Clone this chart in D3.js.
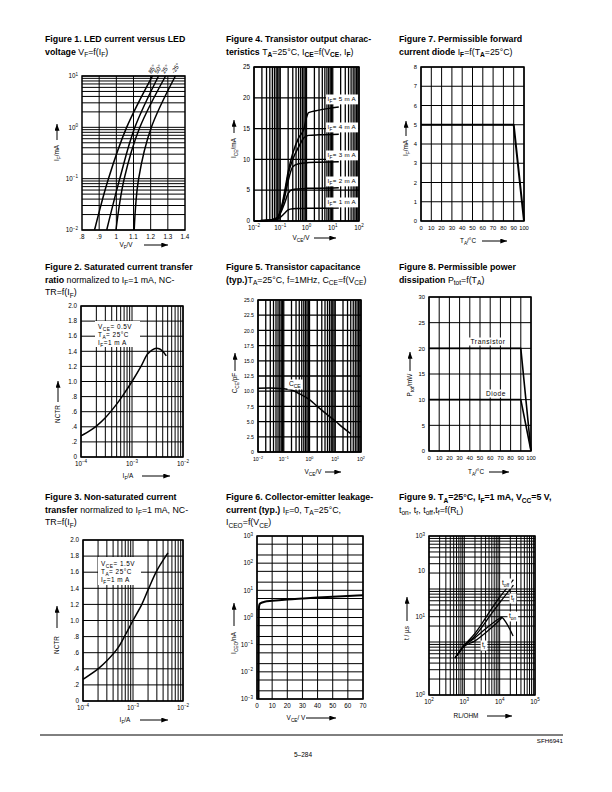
<!DOCTYPE html>
<html><head><meta charset="utf-8">
<script src="https://cdn.jsdelivr.net/npm/d3@7"></script>
<style>
body{margin:0;background:#fff}
svg text{font-family:"Liberation Sans",Arial,Helvetica,sans-serif;fill:#000;white-space:pre}
</style>
</head><body>
<svg id="c" width="612" height="792" xmlns="http://www.w3.org/2000/svg"></svg>
<script>
// ---------------- DATA ----------------
// Figure 1: LED current vs LED voltage
const f1IF = [0.01, 0.1, 1, 10];
const f1VF85 = [0.873, 0.954, 1.06, 1.21];
const f1VF50 = [0.944, 1.02, 1.108, 1.246];
const f1VF25 = [0.998, 1.046, 1.137, 1.287];
const f1VFm25 = [1.104, 1.13, 1.204, 1.344];
const f1Temps = ["85°", "50°", "25°", "-25°"];
const f1XTicks = [0.8, 0.9, 1.0, 1.1, 1.2, 1.3, 1.4];
const f1XLabels = [".8", ".9", "1", "1.1", "1.2", "1.3", "1.4"];
const f1VGrid = [0.9, 1.0, 1.1, 1.2, 1.3];
const f1YTicks = [0.01, 0.1, 1, 10];
const f1YLabels = ["10^{−2}", "10^{−1}", "10^{0}", "10^{1}"];

// Figure 4: transistor output characteristics
const f4VCE = [0.01, 0.05, 0.08, 0.1, 0.15, 0.2, 0.3, 0.5, 0.8, 1.0, 1.2, 3, 17];
const f4IF5 = [0, 0.2, 0.6, 1.5, 5, 8, 11, 13.5, 15, 16.8, 17.6, 18, 18.5];
const f4IF4 = [0, 0.2, 0.6, 1.5, 4.5, 7.5, 10, 12, 13.5, 13.8, 13.9, 14, 14.1];
const f4IF3 = [0, 0.2, 0.6, 1.4, 4, 6.5, 8.8, 9.3, 9.4, 9.45, 9.5, 9.55, 9.6];
const f4IF2 = [0, 0.2, 0.5, 1.2, 3, 4.5, 5.1, 5.2, 5.25, 5.3, 5.3, 5.32, 5.4];
const f4IF1 = [0, 0.1, 0.3, 0.6, 1.3, 1.8, 2.0, 2.02, 2.04, 2.05, 2.06, 2.07, 2.1];
const f4Labels = ["I_{F}= 5 m A", "I_{F}= 4 m A", "I_{F}= 3 m A", "I_{F}= 2 m A", "I_{F}= 1 m A"];
const f4XTicks = [0.01, 0.1, 1, 10, 100];
const f4XLabels = ["10^{−2}", "10^{−1}", "10^{0}", "10^{1}", "10^{2}"];
const f4YTicks = [0, 5, 10, 15, 20, 25];
const f4YLabels = ["0", "5", "10", "15", "20", "25"];

// Figure 7: permissible forward current
const f7TA = [0, 90, 100];
const f7IF = [5, 5, 0];
const f7XTicks = [0, 10, 20, 30, 40, 50, 60, 70, 80, 90, 100];
const f7YTicks = [0, 1, 2, 3, 4, 5, 6, 7, 8];

// Figure 2: saturated CTR
const f2IF = [1e-4, 1.5e-4, 2e-4, 3e-4, 5e-4, 7e-4, 1e-3, 1.5e-3, 2e-3, 2.5e-3, 3e-3, 3.5e-3, 4e-3, 4.7e-3];
const f2NCTR = [0.28, 0.35, 0.41, 0.52, 0.70, 0.84, 1.0, 1.2, 1.36, 1.42, 1.44, 1.43, 1.40, 1.34];
const f2Notes = ["V_{CE}= 0.5V", "T_{A}= 25°C", "I_{F}=1 m A"];

// Figure 3: non-saturated CTR
const f3IF = [1e-4, 2e-4, 3e-4, 5e-4, 7e-4, 1e-3, 1.5e-3, 2e-3, 3e-3, 5e-3];
const f3NCTR = [0.27, 0.40, 0.50, 0.66, 0.82, 1.0, 1.2, 1.38, 1.62, 1.84];
const f3Notes = ["V_{CE}= 1.5V", "T_{A}= 25°C", "I_{F}=1 m A"];

const ctrYTicks = [0, 0.2, 0.4, 0.6, 0.8, 1.0, 1.2, 1.4, 1.6, 1.8, 2.0];
const ctrYLabels = ["0", ".2", ".4", ".6", ".8", "1.0", "1.2", "1.4", "1.6", "1.8", "2.0"];
const ctrXTicks = [1e-4, 1e-3, 1e-2];
const ctrXLabels = ["10^{−4}", "10^{−3}", "10^{−2}"];

// Figure 5: transistor capacitance
const f5VCE = [0.01, 0.05, 0.1, 0.2, 0.4, 1, 2, 5, 10, 20, 40];
const f5CCE = [10.5, 10.5, 10.4, 10.2, 9.6, 8.6, 7.5, 6.1, 5.1, 4.0, 3.0];
const f5YTicks = [0, 2.5, 5, 7.5, 10, 12.5, 15, 17.5, 20, 22.5, 25];
const f5YLabels = ["0", "2.5", "5.0", "7.5", "10.0", "12.5", "15.0", "17.5", "20.0", "22.5", "25.0"];

// Figure 8: permissible power dissipation
const f8TA = [0, 90, 100];
const f8Transistor = [20, 20, 0];
const f8Diode = [10, 10, 0];
const f8YTicks = [0, 5, 10, 15, 20, 25, 30];

// Figure 6: collector-emitter leakage current
const f6VCE = [1.0, 1.2, 1.6, 2.5, 5, 10, 20, 30, 40, 50, 60, 70];
const f6ICEO = [0.001, 2.0, 3.0, 3.4, 3.8, 4.1, 4.6, 5.0, 5.4, 5.8, 6.2, 6.6];
const f6XTicks = [0, 10, 20, 30, 40, 50, 60, 70];
const f6YTicks = [1e-3, 1e-2, 1e-1, 1, 10, 100, 1000];
const f6YLabels = ["10^{−3}", "10^{−2}", "10^{−1}", "10^{0}", "10^{1}", "10^{2}", "10^{3}"];
const f6HGrid = [1e-3, 2e-3, 5e-3, 1e-2, 2e-2, 5e-2, 0.1, 0.2, 0.5, 1, 2, 5, 10, 20, 50, 100, 200, 500, 1000];

// Figure 9: switching times vs RL
const f9RL = [550, 1000, 2000, 6000, 10000, 24500];
const f9Toff = [5.0, 8.7, 14.5, 43, 70, 150];
const f9Tf = [5.0, 8.7, 13, 35, 55, 118];
const f9RLon = [550, 1000, 2000, 5000, 10000, 11500, 16000, 24000];
const f9Ton = [5.0, 8.5, 12, 20, 28, 29, 22, 13];
const f9RLr = [550, 1000, 2000, 5000, 10000, 11500];
const f9Tr = [5.0, 8.3, 10.5, 17, 26, 29];
const f9XTicks = [100, 1000, 10000, 100000];
const f9XLabels = ["10^{2}", "10^{3}", "10^{4}", "10^{5}"];
const f9YTicks = [1000, 218, 29.6, 1];
const f9YLabels = ["10^{3}", "10", "10^{1}", "10^{0}"];

// ---------------- DRAWING ----------------
const svg = d3.select("#c");
svg.append("rect").attr("width", 612).attr("height", 792).attr("fill", "#fff");
const defs = svg.append("defs");
defs.append("marker").attr("id", "arr").attr("viewBox", "0 0 8 6").attr("refX", 8).attr("refY", 3)
  .attr("markerWidth", 7).attr("markerHeight", 5).attr("markerUnits", "userSpaceOnUse").attr("orient", "auto")
  .append("path").attr("d", "M0,0L8,3L0,6Z").attr("fill", "#000");

function rich(sel, str, size, baseBold) {
  const re = /([_^*~!])\{([^}]*)\}|([^_^*~!{}]+)/g;
  let m, cur = 0;
  while ((m = re.exec(str)) !== null) {
    let t, target = 0, fs = size, bold = baseBold;
    if (m[3] !== undefined) { t = m[3]; }
    else {
      t = m[2];
      const k = m[1];
      if (k === "_" || k === "~") { target = size * 0.3; fs = size * 0.75; if (k === "~") bold = true; }
      else if (k === "^") { target = -size * 0.42; fs = size * 0.72; }
      else if (k === "*") bold = true;
      else if (k === "!") bold = false;
    }
    sel.append("tspan").attr("dy", (target - cur).toFixed(2)).attr("font-size", fs)
      .attr("font-weight", bold ? "bold" : "normal").text(t);
    cur = target;
  }
}
function T(g, x, y, str, size, opt = {}) {
  const t = g.append("text").attr("x", x).attr("y", y).attr("font-size", size)
    .attr("text-anchor", opt.anchor || "start");
  if (opt.rotate) t.attr("transform", `rotate(${opt.rotate},${x},${y})`);
  if (opt.ls) t.attr("letter-spacing", opt.ls);
  rich(t, str, size, !!opt.bold);
  return t;
}
function title(x, y, lines) {
  lines.forEach((l, i) => T(svg, x, y + i * 12.6, l, 8.8));
}
function yLabel(x, yc, str, arrowTop, arrowBot) {
  T(svg, x, yc, str, 6.4, { anchor: "middle", rotate: -90 });
  svg.append("line").attr("x1", x - 2).attr("x2", x - 2).attr("y1", arrowBot).attr("y2", arrowTop)
    .attr("stroke", "#000").attr("stroke-width", 1).attr("marker-end", "url(#arr)");
}
function xLabel(x, y, str, a0, a1) {
  T(svg, x, y, str, 6.4, { anchor: "middle" });
  svg.append("line").attr("x1", a0).attr("x2", a1).attr("y1", y - 2).attr("y2", y - 2)
    .attr("stroke", "#000").attr("stroke-width", 1).attr("marker-end", "url(#arr)");
}
function plot(c) {
  const [x0, x1, y0, y1] = c.box;
  const g = svg.append("g");
  const xs = (c.xlog ? d3.scaleLog() : d3.scaleLinear()).domain(c.xd).range([x0, x1]);
  const ys = (c.ylog ? d3.scaleLog() : d3.scaleLinear()).domain(c.yd).range([y1, y0]);
  const vg = c.vg || xs.ticks();
  const hg = c.hg || ys.ticks();
  const gw = c.gw || 1;
  g.append("g").selectAll("line").data(vg).join("line")
    .attr("x1", d => xs(d)).attr("x2", d => xs(d)).attr("y1", y0).attr("y2", y1)
    .attr("stroke", "#000").attr("stroke-width", gw);
  g.append("g").selectAll("line").data(hg).join("line")
    .attr("x1", x0).attr("x2", x1).attr("y1", d => ys(d)).attr("y2", d => ys(d))
    .attr("stroke", "#000").attr("stroke-width", gw);
  g.append("rect").attr("x", x0).attr("y", y0).attr("width", x1 - x0).attr("height", y1 - y0)
    .attr("fill", "none").attr("stroke", "#000").attr("stroke-width", 1.5);
  const fs = c.fs || 6.3;
  c.xt.forEach((v, i) => T(g, xs(v), y1 + 9, c.xl ? c.xl[i] : String(v), fs, { anchor: "middle" }));
  c.yt.forEach((v, i) => T(g, x0 - 4, ys(v) + 2.2, c.yl ? c.yl[i] : String(v), fs, { anchor: "end" }));
  return { g, xs, ys };
}
function curve(p, xsArr, ysArr, w, cv) {
  const pts = xsArr.map((x, i) => [p.xs(x), p.ys(ysArr[i])]);
  p.g.append("path").attr("d", d3.line().curve(cv || d3.curveCatmullRom.alpha(0.5))(pts))
    .attr("fill", "none").attr("stroke", "#000").attr("stroke-width", w || 1.6).attr("stroke-linejoin", "round");
}
function note(g, x, y, str, size, opt = {}) {
  const t = T(g, x, y, str, size, opt);
  const b = t.node().getBBox();
  g.insert("rect", () => t.node()).attr("x", b.x - 1.5).attr("y", b.y - 0.5)
    .attr("width", b.width + 3).attr("height", b.height + 1).attr("fill", "#fff");
  return t;
}

// ---- Figure 1 ----
title(45, 42, ["*{Figure 1. LED current versus LED}", "*{voltage }V_{F}=f(I_{F})"]);
{
  const p = plot({ box: [82, 185, 76, 230], xd: [0.8, 1.4], yd: [0.01, 10], ylog: true,
    vg: f1VGrid, xt: f1XTicks, xl: f1XLabels, yt: f1YTicks, yl: f1YLabels });
  const sets = [f1VF85, f1VF50, f1VF25, f1VFm25];
  sets.forEach((vf, i) => {
    curve(p, vf, f1IF, 1.5, d3.curveMonotoneY);
    T(svg, p.xs(vf[vf.length - 1]) - 1, p.ys(f1IF[f1IF.length - 1]) - 2, f1Temps[i], 6, { rotate: -58 });
  });
  yLabel(59, 153, "I_{F}/mA", 124, 140);
  xLabel(126, 247, "V_{F}/V", 144, 168);
}

// ---- Figure 4 ----
title(226, 42, ["*{Figure 4. Transistor output charac-}", "*{teristics }T~{A}=25°C, I~{CE}=f(V~{CE}, I~{F})"]);
{
  const p = plot({ box: [254, 359, 67, 221], xd: [0.01, 100], xlog: true, yd: [0, 25],
    hg: f4YTicks, gw: 1.3, xt: f4XTicks, xl: f4XLabels, yt: f4YTicks, yl: f4YLabels });
  [f4IF5, f4IF4, f4IF3, f4IF2, f4IF1].forEach(s => curve(p, f4VCE, s, 1.5, d3.curveMonotoneX));
  const ly = [101, 129, 157, 183, 204];
  f4Labels.forEach((l, i) => note(p.g, 356, ly[i], l, 6.2, { anchor: "end", ls: 0.3 }));
  yLabel(236, 148, "I_{CE}/mA", 120, 133);
  xLabel(301, 240, "V_{CE}/V", 314, 336);
}

// ---- Figure 7 ----
title(399, 42, ["*{Figure 7. Permissible forward}", "*{current diode }I~{F}=f(T~{A}=25°C)"]);
{
  const p = plot({ box: [421, 524, 67, 221], xd: [0, 100], yd: [0, 8],
    vg: f7XTicks, hg: f7YTicks, xt: f7XTicks, yt: f7YTicks, fs: 5.8 });
  curve(p, f7TA, f7IF, 2, d3.curveLinear);
  yLabel(408, 148, "I_{F}/mA", 121, 136);
  xLabel(468, 243, "T_{A}/°C", 482, 507);
}

// ---- Figure 2 ----
title(45, 270, ["*{Figure 2. Saturated current transfer}", "*{ratio} normalized to I_{F}=1 mA, NC-", "TR=f(I_{F})"]);
{
  const p = plot({ box: [81, 183, 306, 457], xd: [1e-4, 1e-2], xlog: true, yd: [0, 2],
    hg: ctrYTicks, xt: ctrXTicks, xl: ctrXLabels, yt: ctrYTicks, yl: ctrYLabels });
  p.g.append("rect").attr("x", 95).attr("y", 321).attr("width", 45).attr("height", 26).attr("fill", "#fff");
  f2Notes.forEach((s, i) => T(p.g, 98, 329 + i * 8, s, 6.4, { ls: 0.5 }));
  curve(p, f2IF, f2NCTR, 1.5);
  yLabel(60, 414, "NCTR", 381, 402);
  xLabel(128, 478, "I_{F}/A", 142, 170);
}

// ---- Figure 5 ----
title(226, 270, ["*{Figure 5. Transistor capacitance}", "*{(typ.)}T_{A}=25°C, f=1MHz, C_{CE}=f(V_{CE})"]);
{
  const p = plot({ box: [258, 361, 300, 452], xd: [0.01, 100], xlog: true, yd: [0, 25],
    hg: f5YTicks, gw: 1.3, xt: f4XTicks, xl: f4XLabels, yt: f5YTicks, yl: f5YLabels, fs: 5.2 });
  curve(p, f5VCE, f5CCE, 1.5);
  note(p.g, 289, 386, "C_{CE}", 6.6);
  yLabel(237, 383, "C_{CE}/pF", 353, 371);
  xLabel(313, 474, "V_{CE}/V", 325, 341);
}

// ---- Figure 8 ----
title(399, 270, ["*{Figure 8. Permissible power}", "*{dissipation }P_{tot}=f(T_{A})"]);
{
  const p = plot({ box: [429, 531, 297, 451], xd: [0, 100], yd: [0, 30],
    vg: f7XTicks, hg: f8YTicks, xt: f7XTicks, yt: f8YTicks, fs: 5.8 });
  curve(p, f8TA, f8Transistor, 1.6, d3.curveLinear);
  curve(p, f8TA, f8Diode, 1.6, d3.curveLinear);
  note(p.g, 488, 344, "Transistor", 6.6, { anchor: "middle", ls: 0.6 });
  note(p.g, 496, 396, "Diode", 6.6, { anchor: "middle", ls: 0.6 });
  yLabel(412, 385, "P_{tot}/mW", 352, 371);
  xLabel(476, 474, "T_{A}/°C", 489, 509);
}

// ---- Figure 3 ----
title(45, 500, ["*{Figure 3. Non-saturated current}", "*{transfer} normalized to I_{F}=1 mA, NC-", "TR=f(I_{F})"]);
{
  const p = plot({ box: [83, 183, 540, 701], xd: [1e-4, 1e-2], xlog: true, yd: [0, 2],
    hg: ctrYTicks, xt: ctrXTicks, xl: ctrXLabels, yt: ctrYTicks, yl: ctrYLabels });
  p.g.append("rect").attr("x", 98).attr("y", 557).attr("width", 43).attr("height", 28).attr("fill", "#fff");
  f3Notes.forEach((s, i) => T(p.g, 101, 566 + i * 8, s, 6.4, { ls: 0.5 }));
  curve(p, f3IF, f3NCTR, 1.5);
  yLabel(59, 645, "NCTR", 606, 628);
  xLabel(125, 722, "I_{F}/A", 140, 168);
}

// ---- Figure 6 ----
title(226, 500, ["*{Figure 6. Collector-emitter leakage-}", "*{current (typ.)} I_{F}=0, T_{A}=25°C,", "I_{CEO}=f(V_{CE})"]);
{
  const p = plot({ box: [257, 363, 536, 699], xd: [0, 70], yd: [1e-3, 1e3], ylog: true,
    vg: f6XTicks, hg: f6HGrid, xt: f6XTicks, yt: f6YTicks, yl: f6YLabels });
  curve(p, f6VCE, f6ICEO, 2, d3.curveMonotoneX);
  yLabel(236, 643, "I_{CEO}/nA", 603, 626);
  xLabel(296, 720, "V_{CE}/ V", 306, 336);
}

// ---- Figure 9 ----
title(399, 500, ["*{Figure 9. T}~{A}*{=25°C, I}~{F}*{=1 mA, V}~{CC}*{=5 V,}", "t_{on}, t_{r}, t_{off},t_{f}=f(R_{L})"]);
{
  const p = plot({ box: [429, 535, 536, 695], xd: [100, 100000], xlog: true, yd: [1, 1000], ylog: true,
    xt: f9XTicks, xl: f9XLabels, yt: f9YTicks, yl: f9YLabels });
  curve(p, f9RL, f9Toff, 1.3);
  curve(p, f9RL, f9Tf, 1.3);
  curve(p, f9RLon, f9Ton, 1.3);
  curve(p, f9RLr, f9Tr, 1.3);
  note(p.g, 502, 585, "t_{off}", 6.6);
  note(p.g, 511, 600, "t_{f}", 6.6);
  note(p.g, 509, 618, "t_{on}", 6.6);
  note(p.g, 482, 647, "t_{r}", 6.6);
  yLabel(409, 633, "t / µs", 597, 621);
  xLabel(466, 718, "RL/OHM", 487, 512);
}

// ---- Footer ----
svg.append("line").attr("x1", 40).attr("x2", 563).attr("y1", 735).attr("y2", 735).attr("stroke", "#000").attr("stroke-width", 1);
T(svg, 563, 743, "SFH6941", 6.2, { anchor: "end" });
T(svg, 294, 757, "5–284", 6.5);
</script>
</body></html>
